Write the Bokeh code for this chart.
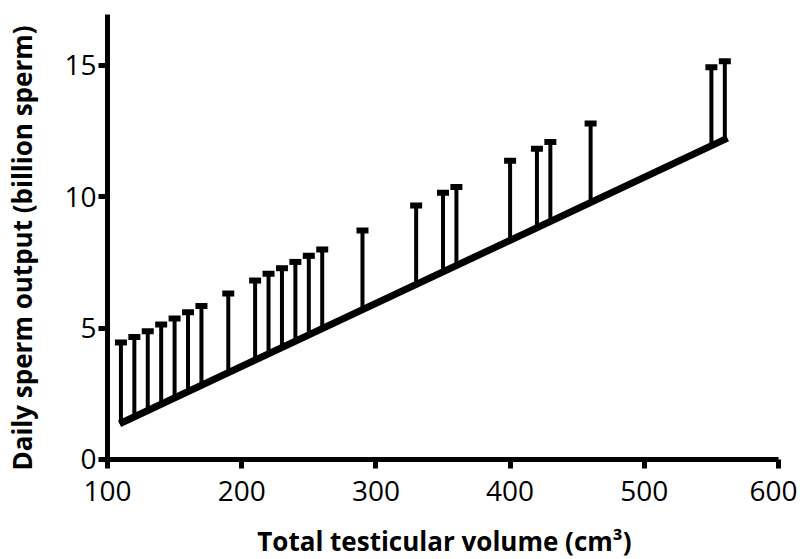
import math
from bokeh.plotting import figure
from bokeh.models import Range1d, FixedTicker, ColumnDataSource, Label
from bokeh.embed import file_html
from bokeh.resources import INLINE

# Data
volume = [110, 120, 130, 140, 150, 160, 170, 190, 210, 220, 230, 240, 250, 260,
          290, 330, 350, 360, 400, 420, 430, 460, 550, 560]
lower = [1.38, 1.62, 1.86, 2.10, 2.34, 2.58, 2.82, 3.30, 3.78, 4.02, 4.26, 4.50,
         4.74, 4.98, 5.70, 6.66, 7.14, 7.38, 8.34, 8.82, 9.06, 9.78, 11.94, 12.18]
upper = [4.45, 4.66, 4.88, 5.14, 5.37, 5.60, 5.84, 6.32, 6.81, 7.07, 7.28, 7.52,
         7.75, 7.99, 8.72, 9.67, 10.15, 10.37, 11.37, 11.83, 12.08, 12.79, 14.93, 15.16]
fit_x = [109, 562]
fit_y = [1.36, 12.23]
x_ticks = [100, 200, 300, 400, 500, 600]
y_ticks = [0, 5, 10, 15]
x_title = "Total testicular volume (cm³)"
y_title = "Daily sperm output (billion sperm)"

FONT = "Open Sans"

# The frame fills the whole canvas; the axes are pinned at x=100 / y=0.
p = figure(width=797, height=559, output_backend="svg", toolbar_location=None,
           x_range=Range1d(20.27, 614.16), y_range=Range1d(-3.807, 17.47),
           min_border=0, min_border_left=0, min_border_right=0,
           min_border_top=0, min_border_bottom=0)
p.outline_line_color = None
p.grid.visible = False
p.background_fill_color = "white"

src = ColumnDataSource(dict(x=volume, lo=lower, hi=upper))
p.segment(x0="x", y0="lo", x1="x", y1="hi", source=src, line_width=4, line_color="black")
p.rect(x="x", y="hi", width=12, height=6, width_units="screen", height_units="screen",
       source=src, fill_color="black", line_color=None)
p.line(fit_x, fit_y, line_width=7, line_color="black")

for ax in (p.xaxis[0], p.yaxis[0]):
    ax.axis_line_width = 5
    ax.axis_line_color = "black"
    ax.major_tick_line_width = 5
    ax.major_tick_line_color = "black"
    ax.major_tick_out = 9
    ax.major_tick_in = 0
    ax.minor_tick_line_color = None
    ax.major_label_text_font = FONT
    ax.major_label_text_font_size = "28px"
    ax.major_label_text_color = "black"

p.xaxis.ticker = FixedTicker(ticks=x_ticks)
p.yaxis.ticker = FixedTicker(ticks=y_ticks)
p.xaxis.fixed_location = 0
p.yaxis.fixed_location = 100
p.xaxis.bounds = (100, 600)
p.yaxis.bounds = (0, 16.94)
p.xaxis.major_label_standoff = 13
p.yaxis.major_label_standoff = 2

xlab = Label(x=351, y=-3.12, x_units="data", y_units="data", text=x_title,
             text_align="center", text_baseline="middle",
             text_font=FONT, text_font_style="bold", text_font_size="26px",
             text_color="black")
ylab = Label(x=36.3, y=8.05, x_units="data", y_units="data", text=y_title,
             angle=math.pi / 2, text_align="center", text_baseline="middle",
             text_font=FONT, text_font_style="bold", text_font_size="26px",
             text_color="black")
p.add_layout(xlab)
p.add_layout(ylab)

open("out.html", "w").write(file_html(p, INLINE))
